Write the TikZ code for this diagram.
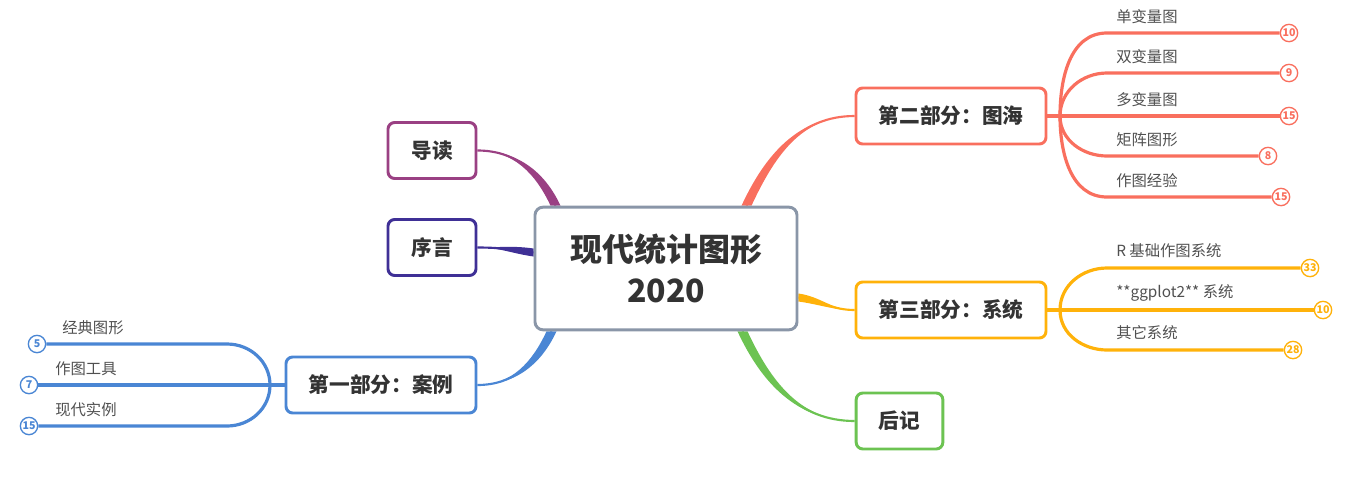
\documentclass[tikz,border=0pt]{standalone}
\usepackage{fontspec}
\setmainfont{Noto Sans CJK SC}
\usepackage{xcolor}
\usetikzlibrary{calc}
\definecolor{cRoot}{RGB}{138,150,168}
\definecolor{cText}{RGB}{51,51,51}
\definecolor{cLeaf}{RGB}{80,80,80}
\definecolor{cRed}{RGB}{249,111,94}
\definecolor{cAmber}{RGB}{255,178,10}
\definecolor{cGreen}{RGB}{108,195,82}
\definecolor{cBlue}{RGB}{74,134,212}
\definecolor{cPurple}{RGB}{154,64,131}
\definecolor{cIndigo}{RGB}{63,48,150}
\pgfdeclarelayer{bg}
\pgfsetlayers{bg,main}
\tikzset{
 topic/.style={draw, rounded corners=5pt, line width=2.2pt, fill=white, text=cText,
   font=\fontsize{15.5}{18}\selectfont\bfseries, minimum height=42pt, inner xsep=0pt},
 leaf/.style={anchor=west, inner sep=0pt, text=cLeaf, font=\fontsize{11.5}{13}\selectfont},
 num/.style={circle, draw, fill=white, line width=1pt, inner sep=0pt, minimum size=13pt,
   font=\fontsize{8}{9}\selectfont\bfseries},
 twig/.style={line width=2.4pt},
 stem/.style={line width=1.6pt}
}

\begin{document}
\begin{tikzpicture}[x=0.75pt,y=-0.75pt]
\useasboundingbox (0,0) rectangle (1351,486);

\node[draw=cRoot, fill=white, rounded corners=6pt, line width=2.2pt, minimum width=196.5pt,
  minimum height=92pt, align=center, text=cText, font=\fontsize{24}{31}\selectfont\bfseries]
  (root) at (666,268.5) {现代统计图形\\2020};

\node[topic, draw=cPurple, minimum width=66pt] (intro) at (432,150.5) {导读};
\node[topic, draw=cIndigo, minimum width=66pt] (pref) at (432,247.5) {序言};
\node[topic, draw=cBlue, minimum width=142.5pt] (part1) at (381,385) {第一部分：案例};
\node[topic, draw=cRed, minimum width=142.5pt] (part2) at (951,116) {第二部分：图海};
\node[topic, draw=cAmber, minimum width=142.5pt] (part3) at (951,310) {第三部分：系统};
\node[topic, draw=cGreen, minimum width=65pt] (post) at (899.5,421) {后记};

\begin{pgfonlayer}{bg}
\fill[cPurple] (intro.east) to[out=0,in=115] ($(root.north west)+(17,0)$)
  -- ($(root.north west)+(27,0)$) to[out=115,in=0] (intro.east) -- cycle;
\draw[stem,cPurple] (intro.east) to[out=0,in=115] ($(root.north west)+(22,0)$);
\fill[cIndigo] (pref.east) to[out=0,in=172] ($(root.west)+(0,-20)$)
  -- ($(root.west)+(0,-12)$) to[out=172,in=0] (pref.east) -- cycle;
\draw[stem,cIndigo] (pref.east) to[out=0,in=172] ($(root.west)+(0,-16)$);
\fill[cBlue] (part1.east) to[out=0,in=-115] ($(root.south west)+(13,0)$)
  -- ($(root.south west)+(23,0)$) to[out=-115,in=0] (part1.east) -- cycle;
\draw[stem,cBlue] (part1.east) to[out=0,in=-115] ($(root.south west)+(18,0)$);
\fill[cRed] (part2.west) to[out=180,in=65] ($(root.north east)+(-57,0)$)
  -- ($(root.north east)+(-47,0)$) to[out=65,in=180] (part2.west) -- cycle;
\draw[stem,cRed] (part2.west) to[out=180,in=65] ($(root.north east)+(-52,0)$);
\fill[cAmber] (part3.west) to[out=180,in=-8] ($(root.east)+(0,25)$)
  -- ($(root.east)+(0,33)$) to[out=-8,in=180] (part3.west) -- cycle;
\draw[stem,cAmber] (part3.west) to[out=180,in=-8] ($(root.east)+(0,29)$);
\fill[cGreen] (post.west) to[out=180,in=-65] ($(root.south east)+(-61,0)$)
  -- ($(root.south east)+(-51,0)$) to[out=-65,in=180] (post.west) -- cycle;
\draw[stem,cGreen] (post.west) to[out=180,in=-65] ($(root.south east)+(-56,0)$);
\end{pgfonlayer}

\coordinate (b1) at (270,385);
\coordinate (b2) at (1060,116);
\coordinate (b3) at (1060,310);
\draw[twig,cBlue] (part1.west) -- (b1);
\draw[twig,cRed] (part2.east) -- (b2);
\draw[twig,cAmber] (part3.east) -- (b3);

\foreach \y/\xn/\num/\txt [count=\i] in {33/1289/10/单变量图, 73/1289/9/双变量图,
    116/1289/15/多变量图, 156/1268/8/矩阵图形, 197/1281/15/作图经验}{
  \pgfmathsetmacro\ang{\y<116 ? 90 : (\y>116 ? -90 : 0)}
  \node[leaf] (l2\i) at (1116,\y-16) {\txt};
  \node[num, draw=cRed, text=cRed] (n2\i) at (\xn,\y) {\num};
  \draw[twig,cRed] (b2) to[out=\ang,in=180] (1107,\y) -- (n2\i.west);
}

\foreach \y/\xn/\num/\txt [count=\i] in {268/1310/33/R 基础作图系统,
    310/1323/10/**ggplot2** 系统, 350/1293/28/其它系统}{
  \pgfmathsetmacro\ang{\y<310 ? 90 : (\y>310 ? -90 : 0)}
  \node[leaf] (l3\i) at (1116,\y-17) {\txt};
  \node[num, draw=cAmber, text=cAmber] (n3\i) at (\xn,\y) {\num};
  \draw[twig,cAmber] (b3) to[out=\ang,in=180] (1107,\y) -- (n3\i.west);
}

\foreach \y/\xn/\num/\xl/\txt [count=\i] in {344/37/5/62/经典图形,
    385/29/7/55/作图工具, 426/29/15/55/现代实例}{
  \pgfmathsetmacro\ang{\y<385 ? 90 : (\y>385 ? -90 : 180)}
  \node[leaf] (l1\i) at (\xl,\y-16) {\txt};
  \node[num, draw=cBlue, text=cBlue] (n1\i) at (\xn,\y) {\num};
  \draw[twig,cBlue] (b1) to[out=\ang,in=0] (227,\y) -- (n1\i.east);
}
\end{tikzpicture}
\end{document}
